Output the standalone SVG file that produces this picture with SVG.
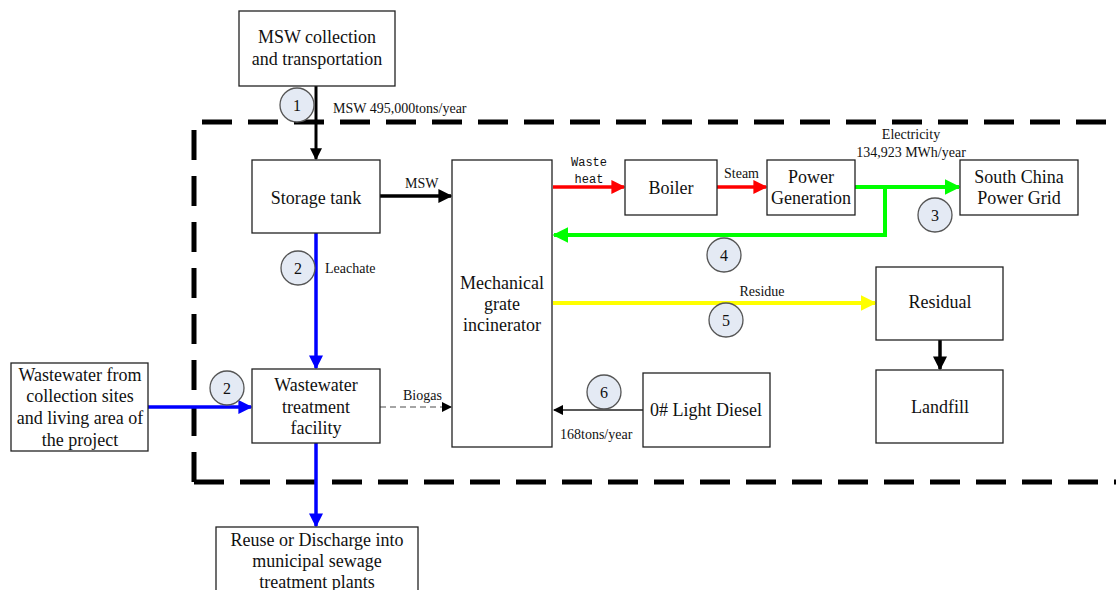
<svg xmlns="http://www.w3.org/2000/svg" width="1116" height="590" viewBox="0 0 1116 590">
<style>
.box{fill:#fff;stroke:#222;stroke-width:1.3}
.t{font-family:"Liberation Serif","Times New Roman","DejaVu Serif",serif;font-size:18px;fill:#111;text-anchor:middle}
.s{font-family:"Liberation Serif","Times New Roman","DejaVu Serif",serif;font-size:14px;fill:#111}
.m{font-family:"Liberation Mono","Courier New","DejaVu Sans Mono",monospace;font-size:12px;fill:#111;text-anchor:middle}
.c{fill:#e4eaf4;stroke:#555;stroke-width:1.3}
.ct{font-family:"Liberation Serif","Times New Roman","DejaVu Serif",serif;font-size:16px;fill:#111;text-anchor:middle}
</style>
<defs>
<marker id="ak" viewBox="0 0 10 10" refX="9" refY="5" markerWidth="4" markerHeight="4" orient="auto" markerUnits="strokeWidth"><path d="M0,0L10,5L0,10z" fill="#000"/></marker>
<marker id="akt" viewBox="0 0 10 10" refX="9" refY="5" markerWidth="8" markerHeight="8" orient="auto" markerUnits="strokeWidth"><path d="M0,0L10,5L0,10z" fill="#000"/></marker>
<marker id="ar" viewBox="0 0 10 10" refX="9" refY="5" markerWidth="4" markerHeight="4" orient="auto" markerUnits="strokeWidth"><path d="M0,0L10,5L0,10z" fill="#f00"/></marker>
<marker id="ag" viewBox="0 0 10 10" refX="9" refY="5" markerWidth="4" markerHeight="4" orient="auto" markerUnits="strokeWidth"><path d="M0,0L10,5L0,10z" fill="#0f0"/></marker>
<marker id="ab" viewBox="0 0 10 10" refX="9" refY="5" markerWidth="4" markerHeight="4" orient="auto" markerUnits="strokeWidth"><path d="M0,0L10,5L0,10z" fill="#00f"/></marker>
<marker id="ay" viewBox="0 0 10 10" refX="9" refY="5" markerWidth="4" markerHeight="4" orient="auto" markerUnits="strokeWidth"><path d="M0,0L10,5L0,10z" fill="#ff0"/></marker>
</defs>
<rect width="1116" height="590" fill="#fff"/>
<path d="M194,482V122H1116M194,482H1116" fill="none" stroke="#000" stroke-width="5" stroke-dasharray="30,16"/>
<g id="connectors">
<line x1="316" y1="86" x2="316" y2="159" stroke="#000" stroke-width="3" marker-end="url(#ak)"/>
<line x1="380" y1="196" x2="451" y2="196" stroke="#000" stroke-width="3.5" marker-end="url(#ak)"/>
<line x1="553" y1="187" x2="624" y2="187" stroke="#f00" stroke-width="3.5" marker-end="url(#ar)"/>
<line x1="717" y1="187" x2="766" y2="187" stroke="#f00" stroke-width="3.5" marker-end="url(#ar)"/>
<line x1="855" y1="187" x2="959" y2="187" stroke="#0f0" stroke-width="4" marker-end="url(#ag)"/>
<polyline points="885,187 885,235 554,235" fill="none" stroke="#0f0" stroke-width="4" marker-end="url(#ag)"/>
<line x1="553" y1="303" x2="875" y2="303" stroke="#ff0" stroke-width="4" marker-end="url(#ay)"/>
<line x1="940" y1="340" x2="940" y2="369" stroke="#000" stroke-width="3.5" marker-end="url(#ak)"/>
<line x1="316" y1="233" x2="316" y2="368" stroke="#00f" stroke-width="3.5" marker-end="url(#ab)"/>
<line x1="148" y1="407" x2="251" y2="407" stroke="#00f" stroke-width="3.5" marker-end="url(#ab)"/>
<line x1="380" y1="407" x2="451" y2="407" stroke="#888" stroke-width="1.3" stroke-dasharray="6,4" marker-end="url(#akt)"/>
<line x1="643" y1="410" x2="554" y2="410" stroke="#222" stroke-width="1.3" marker-end="url(#akt)"/>
<line x1="316" y1="443" x2="316" y2="526" stroke="#00f" stroke-width="3.5" marker-end="url(#ab)"/>
</g>
<g id="labels">
<text class="s" x="333" y="113">MSW 495,000tons/year</text>
<text class="s" x="405" y="188">MSW</text>
<text class="m" x="589" y="166">Waste</text>
<text class="m" x="589" y="183">heat</text>
<text class="s" x="724" y="178">Steam</text>
<text class="s" x="911" y="139" text-anchor="middle">Electricity</text>
<text class="s" x="911" y="157" text-anchor="middle">134,923 MWh/year</text>
<text class="s" x="762" y="296" text-anchor="middle">Residue</text>
<text class="s" x="325" y="273">Leachate</text>
<text class="s" x="403" y="400">Biogas</text>
<text class="s" x="560" y="439">168tons/year</text>
</g>
<g id="badges">
<circle class="c" cx="297" cy="105" r="17"/><text class="ct" x="297" y="111">1</text>
<circle class="c" cx="298" cy="268" r="17"/><text class="ct" x="298" y="274">2</text>
<circle class="c" cx="227" cy="388" r="17"/><text class="ct" x="227" y="394">2</text>
<circle class="c" cx="935" cy="215" r="17"/><text class="ct" x="935" y="221">3</text>
<circle class="c" cx="724" cy="255" r="17"/><text class="ct" x="724" y="261">4</text>
<circle class="c" cx="726" cy="320" r="17"/><text class="ct" x="726" y="326">5</text>
<circle class="c" cx="604" cy="392" r="17"/><text class="ct" x="604" y="398">6</text>
</g>
<g id="msw-collection"><rect class="box" x="239" y="11" width="156" height="75"/><text class="t" x="317" y="43">MSW collection</text><text class="t" x="317" y="65">and transportation</text></g>
<g id="storage-tank"><rect class="box" x="252" y="160" width="128" height="73"/><text class="t" x="316" y="204">Storage tank</text></g>
<g id="incinerator"><rect class="box" x="452" y="160" width="100" height="287"/><text class="t" x="502" y="289">Mechanical</text><text class="t" x="502" y="310">grate</text><text class="t" x="502" y="331">incinerator</text></g>
<g id="boiler"><rect class="box" x="625" y="160" width="92" height="55"/><text class="t" x="671" y="194">Boiler</text></g>
<g id="power-generation"><rect class="box" x="767" y="160" width="88" height="55"/><text class="t" x="811" y="183">Power</text><text class="t" x="811" y="204">Generation</text></g>
<g id="power-grid"><rect class="box" x="960" y="160" width="118" height="55"/><text class="t" x="1019" y="183">South China</text><text class="t" x="1019" y="204">Power Grid</text></g>
<g id="residual"><rect class="box" x="876" y="267" width="127" height="73"/><text class="t" x="940" y="308">Residual</text></g>
<g id="landfill"><rect class="box" x="876" y="370" width="127" height="73"/><text class="t" x="940" y="413">Landfill</text></g>
<g id="wastewater-facility"><rect class="box" x="252" y="369" width="128" height="74"/><text class="t" x="316" y="391">Wastewater</text><text class="t" x="316" y="413">treatment</text><text class="t" x="316" y="434">facility</text></g>
<g id="wastewater-source"><rect class="box" x="11" y="363" width="137" height="88"/><text class="t" x="80" y="381">Wastewater from</text><text class="t" x="80" y="402">collection sites</text><text class="t" x="80" y="424">and living area of</text><text class="t" x="80" y="446">the project</text></g>
<g id="light-diesel"><rect class="box" x="643" y="373" width="127" height="74"/><text class="t" x="706" y="416">0# Light Diesel</text></g>
<g id="reuse"><rect class="box" x="216" y="527" width="202" height="70"/><text class="t" x="317" y="546">Reuse or Discharge into</text><text class="t" x="317" y="567">municipal sewage</text><text class="t" x="317" y="588">treatment plants</text></g>
</svg>
